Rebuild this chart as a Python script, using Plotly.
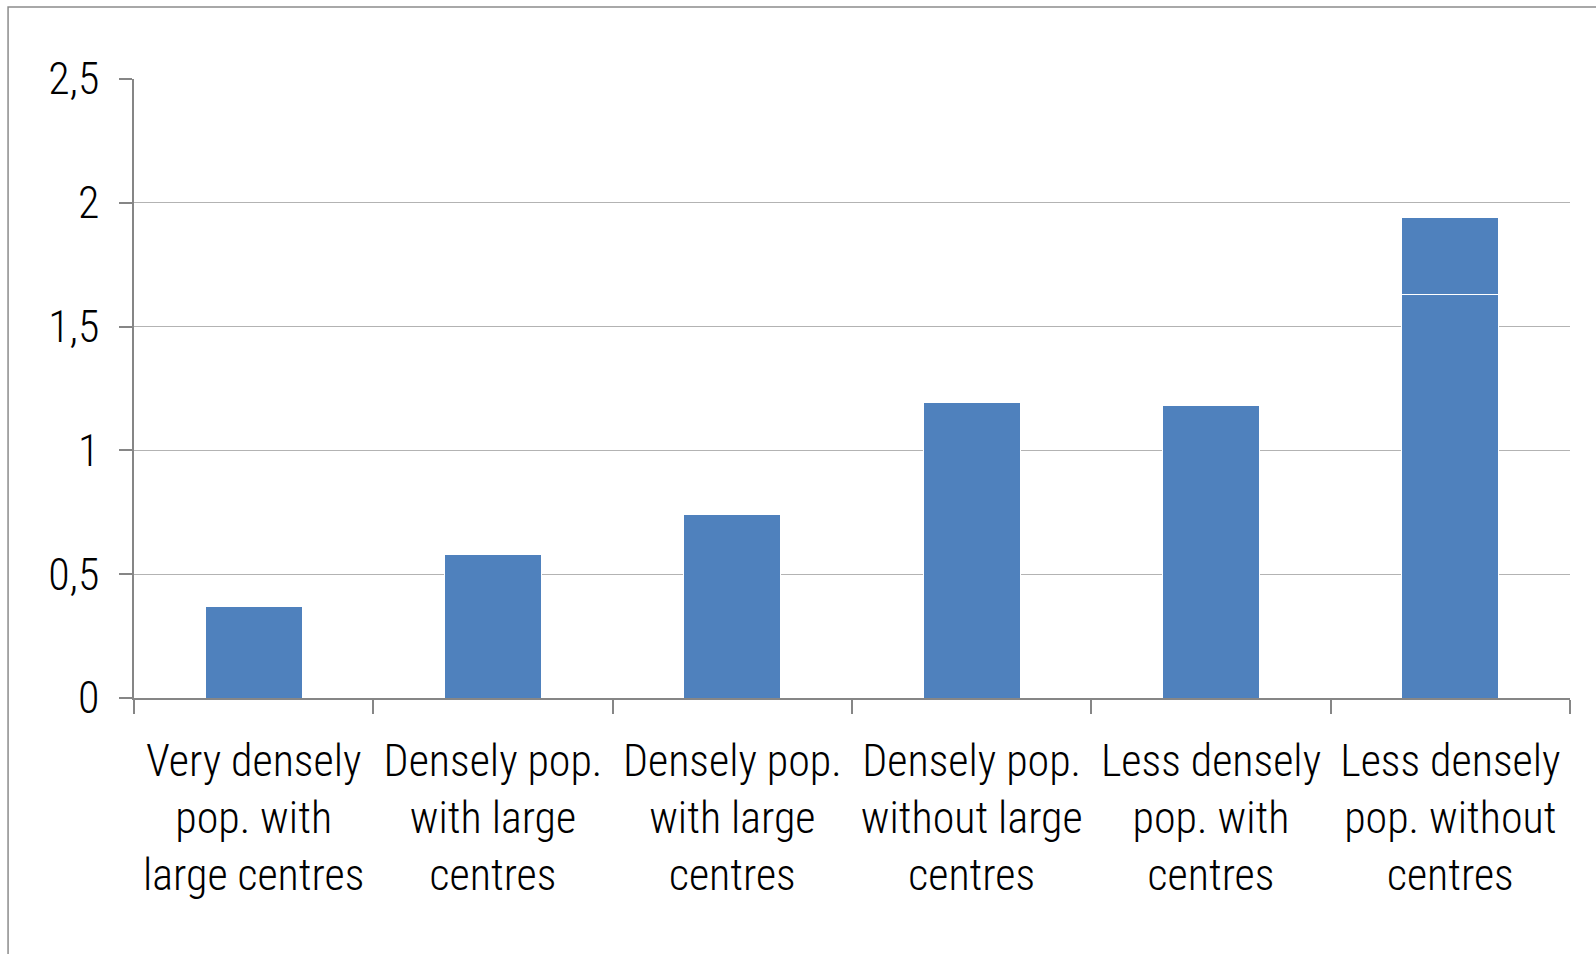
import plotly.graph_objects as go

# Area types (x categories): ids plus their displayed labels
category_ids = ["c1", "c2", "c3", "c4", "c5", "c6"]
category_labels = [
    "Very densely<br>pop. with<br>large centres",
    "Densely pop.<br>with large<br>centres",
    "Densely pop.<br>with large<br>centres",
    "Densely pop.<br>without large<br>centres",
    "Less densely<br>pop. with<br>centres",
    "Less densely<br>pop. without<br>centres",
]
base_values = [0.37, 0.58, 0.74, 1.195, 1.183, 1.628]
upper_values = [0, 0, 0, 0, 0, 0.313]

y_tick_vals = [0, 0.5, 1, 1.5, 2, 2.5]
y_tick_text = ["0", "0,5", "1", "1,5", "2", "2,5"]

FONT = "Liberation Sans Narrow, Arial Narrow, Roboto Condensed, sans-serif"
BAR = "#4F81BD"
GRID = "#b3b3b3"
AXIS = "#868686"

fig = go.Figure()
fig.add_trace(go.Bar(
    x=category_ids, y=base_values, width=0.405,
    marker=dict(color=BAR, line=dict(color="white", width=1)),
    showlegend=False, hoverinfo="y",
))
fig.add_trace(go.Bar(
    x=category_ids, y=upper_values, width=0.405,
    marker=dict(color=BAR, line=dict(color="white", width=1)),
    showlegend=False, hoverinfo="y",
))

# outer frame
fig.add_shape(type="rect", xref="paper", yref="paper",
              x0=-0.0877, x1=1.2, y0=-0.6, y1=1.1164,
              line=dict(color="#8c8c8c", width=1.5), fillcolor="rgba(0,0,0,0)",
              layer="below")

tick_font = dict(family=FONT, size=44, color="black", weight=300)

fig.update_layout(
    width=1596, height=954,
    margin=dict(l=134, r=26, t=79, b=256, pad=0),
    barmode="stack",
    paper_bgcolor="white", plot_bgcolor="white",
    font=dict(family=FONT, size=44, color="black"),
    xaxis=dict(
        type="category", categoryorder="array", categoryarray=category_ids,
        tickmode="array", tickvals=category_ids, ticktext=category_labels,
        showline=True, linecolor=AXIS, linewidth=1.5,
        ticks="outside", tickson="boundaries", ticklen=14, tickcolor=AXIS, tickwidth=1.5,
        showgrid=False, zeroline=False,
        tickfont=tick_font,
        ticklabelstandoff=23,
    ),
    yaxis=dict(
        range=[0, 2.5], tickmode="array", tickvals=y_tick_vals, ticktext=y_tick_text,
        showline=True, linecolor=AXIS, linewidth=1.5,
        ticks="outside", ticklen=13, tickcolor=AXIS, tickwidth=1.5,
        showgrid=True, gridcolor=GRID, gridwidth=1,
        zeroline=False,
        tickfont=tick_font,
        ticklabelstandoff=11,
    ),
)

fig.write_html("out.html")
